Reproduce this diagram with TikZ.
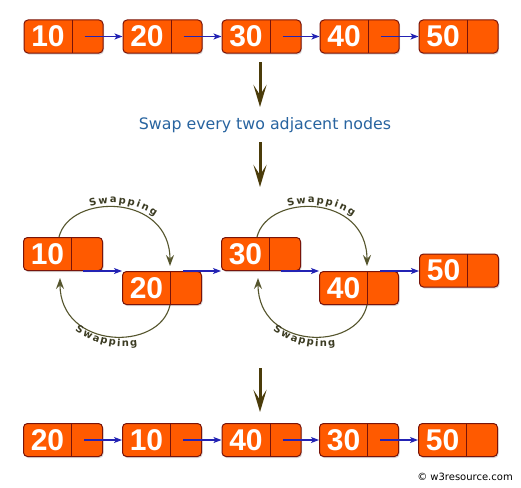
\documentclass[tikz,border=0pt]{standalone}
\usepackage{fontspec}
\setmainfont{DejaVu Sans}
\newfontfamily\numfont{Liberation Sans}
\newfontfamily\swapfont{DejaVu Sans}
\usetikzlibrary{arrows.meta,decorations.markings,shadows}
\definecolor{nodefill}{RGB}{255,90,0}
\definecolor{nodeborder}{RGB}{120,20,10}
\definecolor{arrowblue}{RGB}{35,35,180}
\definecolor{arccol}{RGB}{85,85,45}
\definecolor{bigcol}{RGB}{75,60,10}
\definecolor{titleblue}{RGB}{40,100,160}
\definecolor{swapcol}{RGB}{60,60,35}
\tikzset{
  llnode/.style={draw=nodeborder, line width=1pt, fill=nodefill, rounded corners=4pt,
    minimum width=79pt, minimum height=33pt, inner sep=0pt, text=white,
    font=\numfont\bfseries\fontsize{30pt}{30pt}\selectfont,
    drop shadow={shadow xshift=1pt, shadow yshift=-1.5pt, opacity=0.3},
    path picture={\draw[nodeborder,line width=1pt] ([xshift=48pt]path picture bounding box.north west) -- ([xshift=48pt]path picture bounding box.south west);}},
  barrow/.style={draw=arrowblue, line width=1.1pt, -{Stealth[length=8pt,width=6pt,inset=2pt]}},
  swaparc/.style={draw=arccol, line width=1.1pt, -{Stealth[length=11pt,width=8pt,inset=4pt]}},
  bigarrow/.style={draw=bigcol, line width=3pt, -{Stealth[length=22pt,width=13pt,inset=10pt]}},
  swapletter/.style={transform shape, anchor=base, inner sep=0pt, text=swapcol,
    font=\swapfont\bfseries\fontsize{10pt}{12pt}\selectfont},
  swapup/.style={decorate, decoration={markings,
    mark=at position 3.6pt with {\node[swapletter] {S};},
    mark=at position 13.62pt with {\node[swapletter] {w};},
    mark=at position 23.42pt with {\node[swapletter] {a};},
    mark=at position 32.17pt with {\node[swapletter] {p};},
    mark=at position 41.13pt with {\node[swapletter] {p};},
    mark=at position 48.22pt with {\node[swapletter] {i};},
    mark=at position 55.3pt with {\node[swapletter] {n};},
    mark=at position 64.24pt with {\node[swapletter] {g};}}},
  swaplow/.style={decorate, decoration={markings,
    mark=at position 3.6pt with {\node[swapletter] {S};},
    mark=at position 13.32pt with {\node[swapletter] {w};},
    mark=at position 22.8pt with {\node[swapletter] {a};},
    mark=at position 31.27pt with {\node[swapletter] {p};},
    mark=at position 39.93pt with {\node[swapletter] {p};},
    mark=at position 46.72pt with {\node[swapletter] {i};},
    mark=at position 53.5pt with {\node[swapletter] {n};},
    mark=at position 62.14pt with {\node[swapletter] {g};}}}
}
\newcommand{\nv}[1]{\makebox[48pt]{#1}\hspace*{31pt}}
\begin{document}
\begin{tikzpicture}[x=1pt,y=-1pt]
\fill[white] (0,0) rectangle (521,487);
\useasboundingbox (0,0) rectangle (521,487);
% top row
\node[llnode] (a1) at (63.5,36.5) {\nv{10}};
\node[llnode] (a2) at (162.5,36.5) {\nv{20}};
\node[llnode] (a3) at (261.5,36.5) {\nv{30}};
\node[llnode] (a4) at (359.5,36.5) {\nv{40}};
\node[llnode] (a5) at (458.5,36.5) {\nv{50}};
\draw[barrow] ([xshift=-19pt]a1.east) -- (a2.west);
\draw[barrow] ([xshift=-19pt]a2.east) -- (a3.west);
\draw[barrow] ([xshift=-19pt]a3.east) -- (a4.west);
\draw[barrow] ([xshift=-19pt]a4.east) -- (a5.west);
% title and down arrows
\node[anchor=base, text=titleblue, font=\fontsize{15.8pt}{18pt}\selectfont] (title) at (265,129) {Swap every two adjacent nodes};
\coordinate (d1s) at (260,62);
\coordinate (d1e) at (260,107);
\coordinate (d2s) at (260,142);
\coordinate (d2e) at (260,187);
\coordinate (d3s) at (260,368);
\coordinate (d3e) at (260,412);
\draw[bigarrow] (d1s) -- (d1e);
\draw[bigarrow] (d2s) -- (d2e);
\draw[bigarrow] (d3s) -- (d3e);
% middle row
\node[llnode] (b1) at (63,254) {\nv{10}};
\node[llnode] (b2) at (162,288) {\nv{20}};
\node[llnode] (b3) at (261,254) {\nv{30}};
\node[llnode] (b4) at (359,288) {\nv{40}};
\node[llnode] (b5) at (459,270.5) {\nv{50}};
\draw[barrow] ([xshift=-20pt]b1.south east) -- (b2.north west);
\draw[barrow] ([xshift=-19pt]b2.north east) -- (b3.south west);
\draw[barrow] ([xshift=-20pt]b3.south east) -- (b4.north west);
\draw[barrow] ([xshift=-19pt]b4.north east) -- (b5.west |- b4.north east);
% swapping arcs
\draw[swaparc] ([xshift=-4pt]b1.north) .. controls +(11,-44) and +(0,-73) .. ([xshift=8pt,yshift=5pt]b2.north);
\draw[swaparc] ([xshift=8pt]b2.south) .. controls +(-10,47) and +(0,72) .. ([xshift=-3pt,yshift=-7pt]b1.south);
\draw[swaparc] ([xshift=-4pt]b3.north) .. controls +(11,-44) and +(0,-73) .. ([xshift=8pt,yshift=5pt]b4.north);
\draw[swaparc] ([xshift=8pt]b4.south) .. controls +(-10,47) and +(0,72) .. ([xshift=-3pt,yshift=-7pt]b3.south);
% swapping labels
\path[swapup] (112,278) ++(107:75pt) arc[start angle=107, end angle=40, radius=75pt];
\path[swaplow] (125,258.5) ++(235.4:88pt) arc[start angle=235.4, end angle=300, radius=88pt];
\path[swapup] (310,278) ++(107:75pt) arc[start angle=107, end angle=40, radius=75pt];
\path[swaplow] (323,258.5) ++(235.4:88pt) arc[start angle=235.4, end angle=300, radius=88pt];
% bottom row
\node[llnode] (c1) at (63,440) {\nv{20}};
\node[llnode] (c2) at (162,440) {\nv{10}};
\node[llnode] (c3) at (261.5,440) {\nv{40}};
\node[llnode] (c4) at (359,440) {\nv{30}};
\node[llnode] (c5) at (458,440) {\nv{50}};
\draw[barrow] ([xshift=-19pt]c1.east) -- (c2.west);
\draw[barrow] ([xshift=-19pt]c2.east) -- (c3.west);
\draw[barrow] ([xshift=-19pt]c3.east) -- (c4.west);
\draw[barrow] ([xshift=-19pt]c4.east) -- (c5.west);
\node[anchor=base, font=\fontsize{10pt}{12pt}\selectfont] (copy) at (465,480) {© w3resource.com};
\end{tikzpicture}
\end{document}
